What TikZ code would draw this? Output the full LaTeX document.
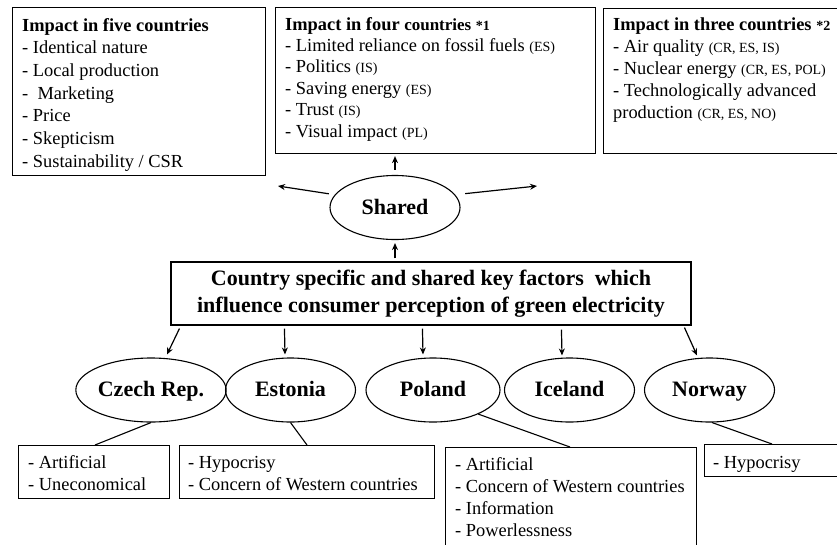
\documentclass[tikz,border=0pt]{standalone}
\usepackage{fontspec}
\setmainfont{Liberation Serif}
\usetikzlibrary{shapes.geometric,arrows.meta,calc}
\newcommand\ctry[1]{{\fontsize{14}{14}\selectfont(#1)}}
\newcommand\smallstar[1]{{\fontsize{14}{14}\selectfont #1}}
\begin{document}
\begin{tikzpicture}[x=1pt,y=-1pt,
  box/.style={draw, line width=1.1pt, inner sep=0, anchor=north west},
  txt/.style={anchor=base west, inner sep=0, align=left, font=\fontsize{18.4}{22.7}\selectfont},
  oval/.style={draw, ellipse, line width=1.1pt, minimum width=130, minimum height=64, inner sep=0, text height=15pt, text depth=2pt, font=\bfseries\fontsize{22}{26}\selectfont},
  arr/.style={-{Stealth[length=7pt,width=6pt]}, line width=1.2pt},
  link/.style={line width=1.1pt}]
\fill[white] (0,0) rectangle (837,544);
\path[use as bounding box] (0,0) rectangle (837,544);
\clip (0,0) rectangle (837,544);

% top boxes (text anchored at the baseline of its last line)
\node[box, minimum width=253, minimum height=168] (b1) at (12,7) {};
\node[txt] (t1) at ($(b1.north west)+(10,160.2)$) {\textbf{Impact in five countries}\\- Identical nature\\- Local production\\-\ \ Marketing\\- Price\\- Skepticism\\- Sustainability / CSR};

\node[box, minimum width=320, minimum height=146] (b2) at (275,7) {};
\node[txt, font=\fontsize{18.4}{21.4}\selectfont] (t2) at ($(b2.north west)+(10,130)$) {\textbf{Impact in four {\fontsize{17}{17}\selectfont countries} \smallstar{*1}}\\- Limited reliance on fossil fuels \ctry{ES}\\- Politics \ctry{IS}\\- Saving energy \ctry{ES}\\- Trust \ctry{IS}\\- Visual impact \ctry{PL}};

\node[box, minimum width=250, minimum height=145] (b3) at (603,8) {};
\node[txt, font=\fontsize{18.4}{22}\selectfont] (t3) at ($(b3.north west)+(10,110)$) {\textbf{Impact in three countries \smallstar{*2}}\\- Air quality \ctry{CR, ES, IS}\\- Nuclear energy \ctry{CR, ES, POL}\\- Technologically advanced\\production \ctry{CR, ES, NO}};

% shared
\node[oval] (sh) at (395,207.5) {Shared};
\coordinate (lend) at (278,186);
\coordinate (rend) at (537,186);
\draw[arr, shorten <=6pt] (sh.168) -- (lend);
\draw[arr, shorten <=10pt] (sh.12) -- (rend);
\draw[arr, shorten <=5pt, shorten >=2pt] (sh.north) -- (b2.south -| sh.north);

% main box
\node[draw, line width=1.1pt, minimum width=520, minimum height=63, inner sep=0, align=center, font=\bfseries\fontsize{22}{27}\selectfont] (main) at (431,293.5) {Country specific and shared key factors\ \ which\\influence consumer perception of green electricity};
\draw[arr, shorten <=3pt, shorten >=3pt] (main.north -| sh.south) -- (sh.south);

% countries
\node[oval] (cz) at (151,390) {Czech Rep.};
\node[oval] (es) at (290.5,390) {Estonia};
\node[oval, minimum width=134] (po) at (433,390) {Poland};
\node[oval] (ic) at (569.5,390) {Iceland};
\node[oval] (no) at (709.5,390) {Norway};

\draw[arr] ($(main.south west)+(9,3)$) -- ($(cz.north)+(16,-3)$);
\draw[arr] ($(main.south west)+(114,3)$) -- ($(es.north)+(-5.5,-3)$);
\draw[arr] ($(main.south west)+(252,3)$) -- ($(po.north)+(-10,-3)$);
\draw[arr] ($(main.south west)+(391,4)$) -- ($(ic.north)+(-7.5,-2)$);
\draw[arr] ($(main.south west)+(514,2)$) -- ($(no.north)+(-12.5,-2)$);

% bottom boxes
\node[box, minimum width=151, minimum height=53] (czb) at (18,445) {};
\node[txt, font=\fontsize{18.4}{22}\selectfont] (czt) at ($(czb.north west)+(10,45)$) {- Artificial\\- Uneconomical};
\node[box, minimum width=255, minimum height=53] (esb) at (179,445) {};
\node[txt, font=\fontsize{18.4}{22}\selectfont] (est) at ($(esb.north west)+(9,45)$) {- Hypocrisy\\- Concern of Western countries};
\node[box, minimum width=251, minimum height=120] (pob) at (445,447) {};
\node[txt, font=\fontsize{18.4}{22.3}\selectfont] (pot) at ($(pob.north west)+(10,89.9)$) {- Artificial\\- Concern of Western countries\\- Information\\- Powerlessness};
\node[box, minimum width=150, minimum height=32] (nob) at (704,444) {};
\node[txt] (not) at ($(nob.north west)+(9,24)$) {- Hypocrisy};

\draw[link] (cz.south) -- ($(czb.north west)+(77,0)$);
\draw[link] (es.south) -- ($(esb.north west)+(128,0)$);
\draw[link] (po.-28) -- ($(pob.north west)+(125,0)$);
\draw[link] ($(no.south)+(2.5,0)$) -- ($(nob.north west)+(68,0)$);
\end{tikzpicture}
\end{document}
